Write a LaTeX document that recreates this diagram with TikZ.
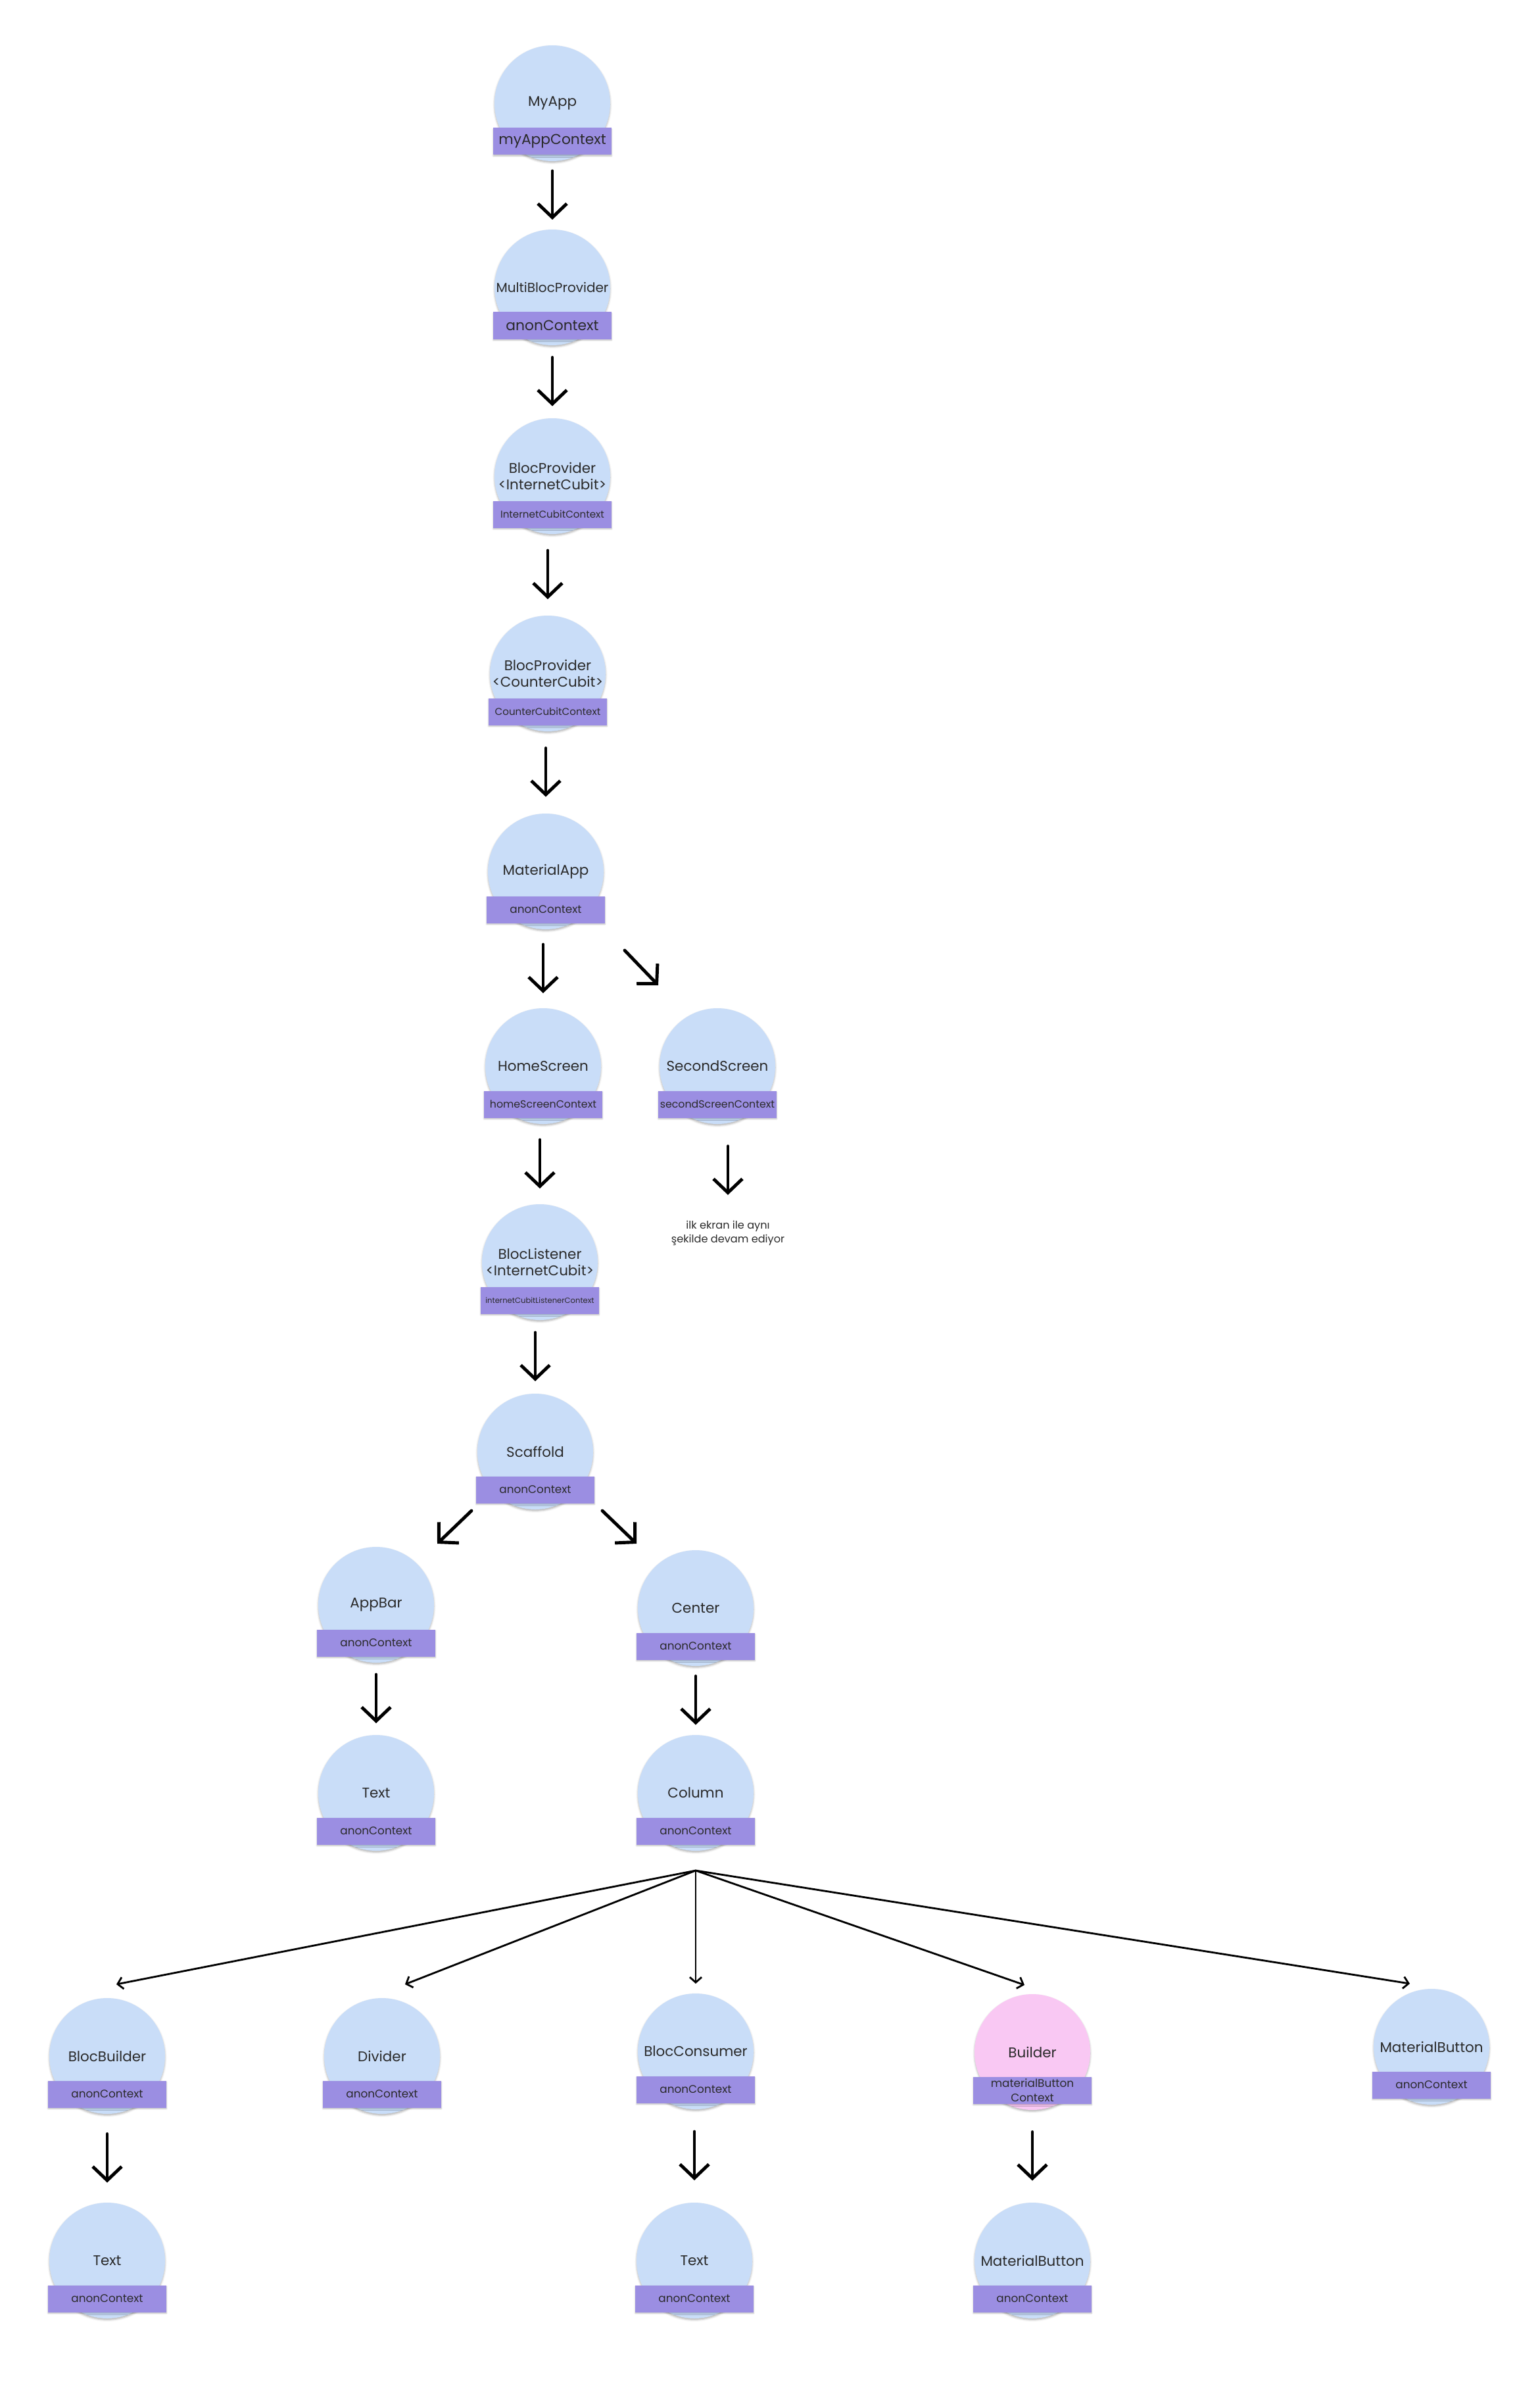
\documentclass[tikz,border=0pt]{standalone}
\usepackage{fontspec}
\setmainfont{Poppins}
\usetikzlibrary{arrows.meta,calc,positioning,shadows.blur}

\definecolor{widgetblue}{HTML}{C9DDF8}
\definecolor{builderpink}{HTML}{F9C8F3}
\definecolor{ctxpurple}{HTML}{9B8EE2}
\definecolor{inkgray}{HTML}{2A2A2A}

\tikzstyle{widget} = [circle, minimum size=1.76cm, inner sep=0pt, outer sep=0pt, fill=widgetblue, text=inkgray, align=center, font=\fontsize{6.1}{7}\selectfont, blur shadow={shadow xshift=0pt, shadow yshift=-0.6pt, shadow blur radius=0.8pt, shadow opacity=30}]
\tikzstyle{ctx} = [rectangle, minimum width=1.8cm, minimum height=0.41cm, inner sep=0pt, outer sep=0pt, fill=ctxpurple, text=inkgray, align=center, font=\fontsize{4.8}{6.2}\selectfont, blur shadow={shadow xshift=0pt, shadow yshift=-0.5pt, shadow blur radius=0.6pt, shadow opacity=25}]
\tikzstyle{arr} = [-{Straight Barb[length=0.21cm,width=0.44cm]}, line width=1.4pt, line cap=round, line join=round]
\tikzstyle{fanarr} = [-{Straight Barb[length=0.08cm,width=0.18cm]}, line width=0.8pt]
\tikzstyle{note} = [align=center, inner sep=0.05cm, text=inkgray, font=\fontsize{4.6}{6}\selectfont]

% circle + context bar
\newcommand{\wnode}[5][]{%
  \node[widget,#1] (#2) at (#3) {#4};
  \node[ctx] (#2ctx) at ([yshift=-0.58cm]#2.center) {#5};}
% short arrow in the gap between two nodes
\newcommand{\down}[2]{\draw[arr] let \p1=(#1.south), \p2=(#2.north) in (\x2,{(\y1+\y2)/2+0.37cm}) -- (\x2,{(\y1+\y2)/2-0.37cm});}

\begin{document}
\begin{tikzpicture}
\useasboundingbox (0,0) rectangle (23.42,-36.46);

\wnode{app}{8.40,-1.57}{MyApp}{\fontsize{6.2}{7}\selectfont myAppContext}
\wnode{multi}{8.40,-4.37}{\fontsize{5.7}{7}\selectfont MultiBlocProvider}{\fontsize{6.2}{7}\selectfont anonContext}
\wnode{bpnet}{8.40,-7.24}{BlocProvider\\<InternetCubit>}{\fontsize{4.3}{5}\selectfont InternetCubitContext}
\wnode{bpcnt}{8.33,-10.24}{BlocProvider\\<CounterCubit>}{\fontsize{4.3}{5}\selectfont CounterCubitContext}
\wnode{mat}{8.30,-13.25}{MaterialApp}{anonContext}
\wnode{home}{8.26,-16.21}{HomeScreen}{\fontsize{4.5}{5}\selectfont homeScreenContext}
\wnode{second}{10.91,-16.21}{SecondScreen}{\fontsize{4.5}{5}\selectfont secondScreenContext}
\node[note] (same) at (11.07,-18.75) {ilk ekran ile aynı\\şekilde devam ediyor};
\wnode{listen}{8.21,-19.19}{BlocListener\\<InternetCubit>}{\fontsize{3.3}{4}\selectfont internetCubitListenerContext}
\wnode{scaf}{8.14,-22.07}{Scaffold}{anonContext}
\wnode{appbar}{5.72,-24.40}{AppBar}{anonContext}
\wnode{center}{10.58,-24.45}{Center}{anonContext}
\wnode{bartext}{5.72,-27.26}{Text}{anonContext}
\wnode{col}{10.58,-27.26}{Column}{anonContext}

\wnode{bb}{1.63,-31.26}{BlocBuilder}{anonContext}
\wnode{div}{5.81,-31.26}{Divider}{anonContext}
\wnode{bc}{10.58,-31.19}{BlocConsumer}{anonContext}
\wnode[fill=builderpink]{bld}{15.70,-31.20}{Builder}{materialButton\\Context}
\wnode{mbtn}{21.77,-31.12}{MaterialButton}{anonContext}

\wnode{bbtext}{1.63,-34.37}{Text}{anonContext}
\wnode{bctext}{10.56,-34.37}{Text}{anonContext}
\wnode{bldbtn}{15.70,-34.37}{MaterialButton}{anonContext}

% main chain
\down{app}{multi}
\down{multi}{bpnet}
\down{bpnet}{bpcnt}
\down{bpcnt}{mat}
\down{mat}{home}
\down{home}{listen}
\down{second}{same}
\down{listen}{scaf}
\down{appbar}{bartext}
\down{center}{col}
\down{bb}{bbtext}
\down{bc}{bctext}
\down{bld}{bldbtn}

% side arrows
\draw[arr] ([shift={(1.20,-1.20)}]mat.center) -- ([shift={(-0.90,1.23)}]second.center);
\draw[arr] ([shift={(-0.97,-0.90)}]scaf.center) -- ([shift={(0.93,0.93)}]appbar.center);
\draw[arr] ([shift={(1.02,-0.90)}]scaf.center) -- ([shift={(-0.90,0.98)}]center.center);

% column children
\coordinate (fan) at ([yshift=-1.18cm]col.center);
\foreach \t/\dx/\dy in {bb/0.14/0.21, div/0.35/0.21, bc/0/0.15, bld/-0.12/0.14, mbtn/-0.33/0.08}
  \draw[fanarr] (fan) -- ([shift={(\dx,\dy)}]\t.north);
\end{tikzpicture}
\end{document}
